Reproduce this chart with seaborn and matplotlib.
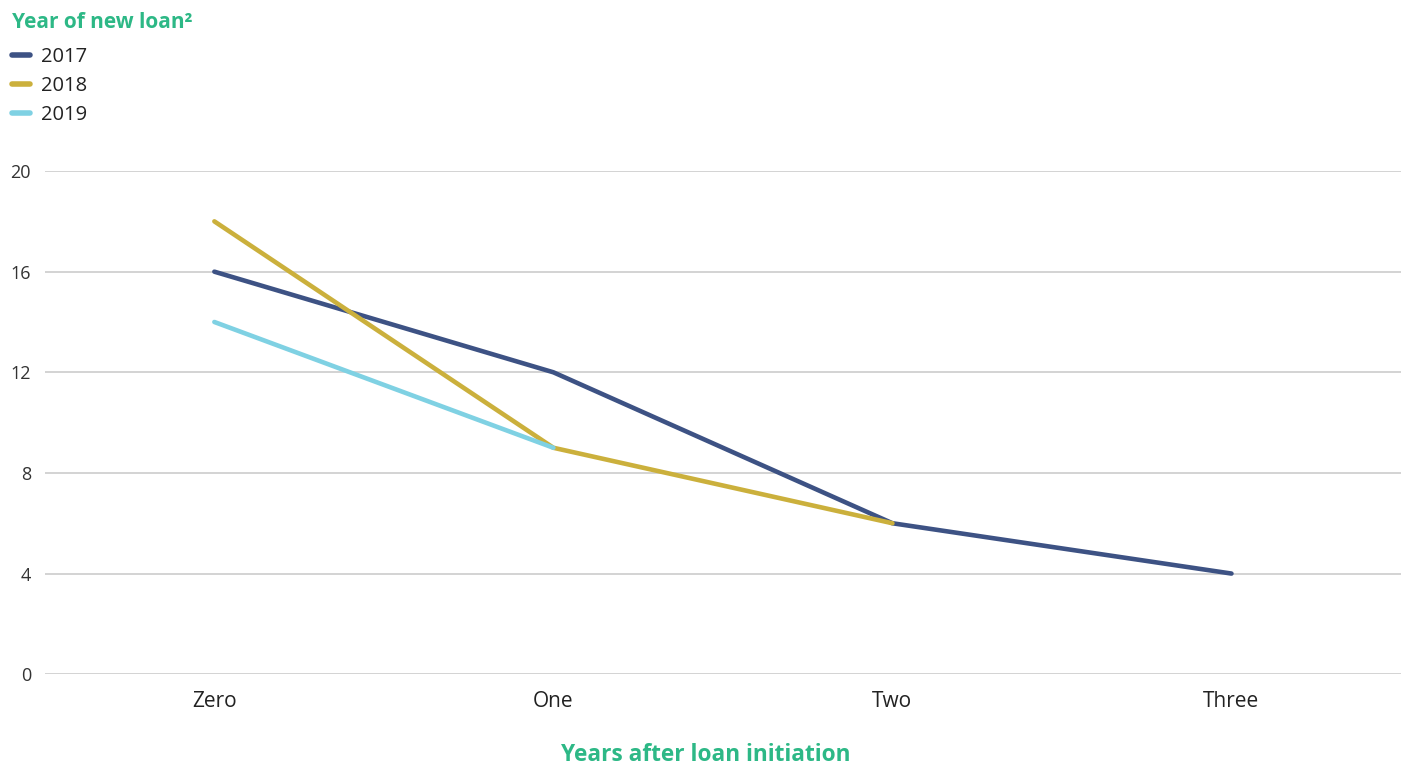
import pandas as pd
import numpy as np
import matplotlib
matplotlib.use("Agg")
import matplotlib.pyplot as plt
import seaborn as sns
from matplotlib.lines import Line2D

# --- dane ---
categories = ["Zero", "One", "Two", "Three"]
years = ["2017", "2018", "2019"]
values_2017 = [16, 12, 6, 4]
values_2018 = [18, 9, 6, np.nan]
values_2019 = [14, 9, np.nan, np.nan]
colors = {"2017": "#3d5284", "2018": "#cbb03c", "2019": "#7fd1e3"}
GREEN = "#2db886"

rows = []
for yr, vals in zip(years, [values_2017, values_2018, values_2019]):
    for i, (cat, v) in enumerate(zip(categories, vals)):
        rows.append({"Year": yr, "pos": i, "Category": cat, "Value": v})
df = pd.DataFrame(rows).dropna()

sns.set_theme(style="white")
plt.rcParams['font.family'] = ['Open Sans', 'DejaVu Sans']

fig = plt.figure(figsize=(14.01, 7.67), dpi=100)
ax = fig.add_axes([0.032, 0.121, 0.968, 0.656])

sns.lineplot(data=df, x="pos", y="Value", hue="Year", palette=colors,
             linewidth=3.3, ax=ax, legend=False, sort=True)
for l in ax.lines:
    l.set_solid_capstyle("round")

ax.set_xlim(-0.5, 3.5)
ax.set_ylim(0, 20)
ax.set_xticks(range(len(categories)))
ax.set_xticklabels(categories, fontsize=15, color="#222222")
ax.set_yticks([0, 4, 8, 12, 16, 20])
ax.tick_params(axis="y", labelsize=13, colors="#333333", pad=10, length=0)
ax.tick_params(axis="x", pad=12, length=0)
ax.yaxis.grid(True, color="#cccccc", linewidth=1.2)
ax.set_axisbelow(True)
for s in ax.spines.values():
    s.set_visible(False)
ax.set_ylabel("")
ax.set_xlabel("Years after loan initiation", fontsize=16.3, fontweight="bold",
              color=GREEN)
ax.xaxis.set_label_coords(0.4875, -0.137)

handles = [Line2D([0], [0], color=colors[y], linewidth=4, solid_capstyle="round") for y in years]
leg = fig.legend(handles, years, loc="upper left", bbox_to_anchor=(0.0, 1.0),
                 frameon=False, fontsize=14.5, handlelength=0.9, handletextpad=0.55,
                 labelspacing=0.44, borderaxespad=0.3, borderpad=0.3)
leg.set_title("Year of new loan²", prop={"size": 15, "weight": "bold"})
leg.get_title().set_color(GREEN)
leg._legend_box.align = "left"
leg._legend_box.sep = 10
for t in leg.get_texts():
    t.set_color("#222222")

fig.savefig("out.png", dpi=100)
